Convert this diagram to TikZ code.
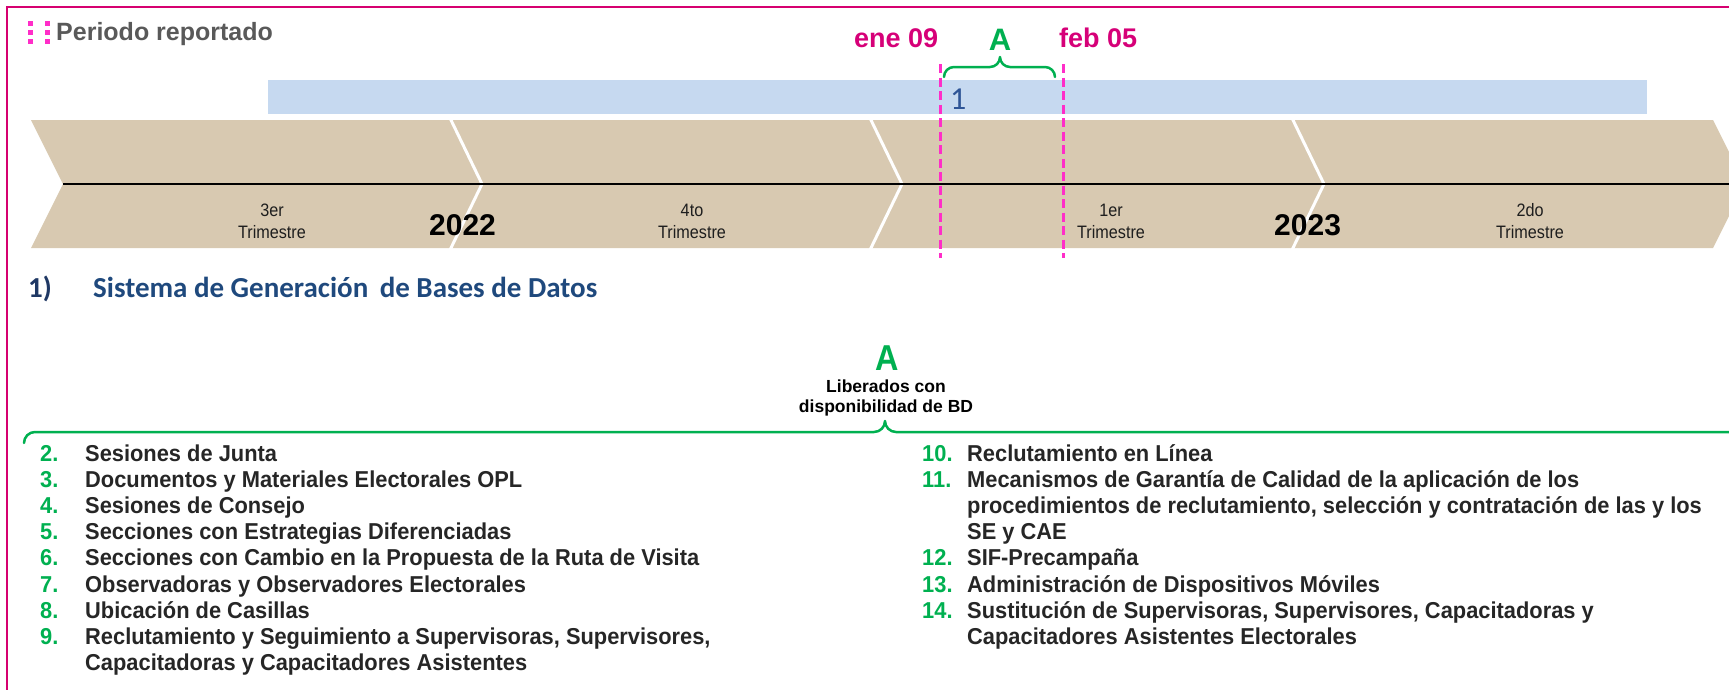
\documentclass[tikz,border=0pt]{standalone}
\usepackage{fontspec}
\setmainfont{Liberation Sans}
\newfontfamily\narrowf[FakeStretch=0.9]{Liberation Sans}
\newfontfamily\listf[FakeStretch=0.95]{Liberation Sans}
\newfontfamily\calf{Carlito}
\definecolor{borderpink}{RGB}{214,0,112}
\definecolor{dashpink}{RGB}{255,45,200}
\definecolor{datepink}{RGB}{214,0,120}
\definecolor{ggreen}{RGB}{0,176,80}
\definecolor{tan}{RGB}{216,201,177}
\definecolor{bluebar}{RGB}{198,217,240}
\definecolor{darkblue}{RGB}{47,85,151}
\definecolor{titleblue}{RGB}{31,73,125}
\definecolor{navy}{RGB}{31,56,100}
\definecolor{txtgray}{RGB}{38,38,38}
\definecolor{hdrgray}{RGB}{89,89,89}
\tikzset{
  lbl/.style={inner sep=0pt, anchor=base west},
  clbl/.style={inner sep=0pt, anchor=base},
  num/.style={lbl, text=ggreen, font=\listf\bfseries\fontsize{23}{25}\selectfont},
  item/.style={lbl, text=txtgray, font=\listf\bfseries\fontsize{23}{25}\selectfont},
  trim/.style={clbl, text=txtgray!80!black, font=\narrowf\fontsize{18}{20}\selectfont},
  year/.style={lbl, text=black, font=\bfseries\fontsize{30}{32}\selectfont},
  datelbl/.style={lbl, text=datepink, font=\bfseries\fontsize{27}{30}\selectfont},
  vdash/.style={draw=dashpink, line width=3pt, dash pattern=on 9pt off 4.5pt},
  gbrace/.style={draw=ggreen, line width=2.5pt, line cap=round, line join=round},
}
\begin{document}
\begin{tikzpicture}[x=1pt,y=-1pt]
\useasboundingbox (0,0) rectangle (1729,689);
% frame
\draw[borderpink, line width=2pt] (7,700) -- (7,7) -- (1740,7);
% header
\foreach \xx in {30,47}{
  \foreach \yy in {23,32,41}{
    \fill[dashpink] (\xx-2.5,\yy-2.5) rectangle (\xx+2.5,\yy+2.5);
  }
}
\node[lbl, text=hdrgray, font=\bfseries\fontsize{25}{27}\selectfont] (hdr) at (56,40) {Periodo reportado};
% blue bar
\fill[bluebar] (268,80) rectangle (1647,114);
\node[lbl, text=darkblue, font=\calf\fontsize{32}{34}\selectfont] (one) at (950,109) {1};
% chevron band
\fill[tan] (31,120) -- (1713,120) -- (1745,184) -- (1713,248) -- (31,248) -- (63,184) -- cycle;
\foreach \sx in {450,870,1292}{
  \draw[white, line width=3pt] (\sx,118) -- (\sx+32,184) -- (\sx,250);
}
\draw[black, line width=2pt] (63,184) -- (1729,184);
\node[trim] (t3a) at (272,216) {3er};
\node[trim] (t3b) at (272,238) {Trimestre};
\node[trim] (t4a) at (692,216) {4to};
\node[trim] (t4b) at (692,238) {Trimestre};
\node[trim] (t1a) at (1111,216) {1er};
\node[trim] (t1b) at (1111,238) {Trimestre};
\node[trim] (t2a) at (1530,216) {2do};
\node[trim] (t2b) at (1530,238) {Trimestre};
\node[year] (y22) at (429,235) {2022};
\node[year] (y23) at (1274,235) {2023};
% period markers
\coordinate (d1t) at (940,64); \coordinate (d1b) at (940,258);
\coordinate (d2t) at (1063,64); \coordinate (d2b) at (1063,258);
\draw[vdash] (d1t) -- (d1b);
\draw[vdash] (d2t) -- (d2b);
\node[datelbl] (ene) at (854,47) {ene 09};
\node[datelbl] (feb) at (1059,47) {feb 05};
\node[clbl, text=ggreen, font=\bfseries\fontsize{31}{33}\selectfont] (atop) at (1000,50) {A};
\draw[gbrace] (944,77) to[out=90,in=180] (954,67) -- (990,67) to[out=0,in=-90] (1000,57) to[out=-90,in=180] (1010,67) -- (1045,67) to[out=0,in=90] (1055,77);
% section title
\node[lbl, text=navy, font=\calf\bfseries\fontsize{29}{31}\selectfont] (s1) at (28,297) {1)};
\node[lbl, text=titleblue, font=\calf\bfseries\fontsize{29}{31}\selectfont] (s1t) at (93,297) {Sistema de Generación\, de Bases de Datos};
% big brace
\node[clbl, text=ggreen, font=\narrowf\bfseries\fontsize{36}{38}\selectfont] (abig) at (887,370) {A};
\node[clbl, text=black, font=\bfseries\fontsize{17.5}{19}\selectfont] (lib1) at (886,392) {Liberados con};
\node[clbl, text=black, font=\bfseries\fontsize{17.5}{19}\selectfont] (lib2) at (886,412) {disponibilidad de BD};
\draw[gbrace] (24,443) to[out=90,in=180] (35,432) -- (874,432) to[out=0,in=-90] (885,421) to[out=-90,in=180] (896,432) -- (1745,432);
% left list
\node[num] (n2) at (40,461) {2.};
\node[item] (i2) at (85,461) {Sesiones de Junta};
\node[num] (n3) at (40,487.2) {3.};
\node[item] (i3) at (85,487.2) {Documentos y Materiales Electorales OPL};
\node[num] (n4) at (40,513.4) {4.};
\node[item] (i4) at (85,513.4) {Sesiones de Consejo};
\node[num] (n5) at (40,539.6) {5.};
\node[item] (i5) at (85,539.6) {Secciones con Estrategias Diferenciadas};
\node[num] (n6) at (40,565.8) {6.};
\node[item] (i6) at (85,565.8) {Secciones con Cambio en la Propuesta de la Ruta de Visita};
\node[num] (n7) at (40,592) {7.};
\node[item] (i7) at (85,592) {Observadoras y Observadores Electorales};
\node[num] (n8) at (40,618.2) {8.};
\node[item] (i8) at (85,618.2) {Ubicación de Casillas};
\node[num] (n9) at (40,644.4) {9.};
\node[item] (i9) at (85,644.4) {Reclutamiento y Seguimiento a Supervisoras, Supervisores,};
\node[item] (i9b) at (85,670.6) {Capacitadoras y Capacitadores Asistentes};
% right list
\node[num] (n10) at (922,461) {10.};
\node[item] (i10) at (967,461) {Reclutamiento en Línea};
\node[num] (n11) at (922,487.2) {11.};
\node[item] (i11) at (967,487.2) {Mecanismos de Garantía de Calidad de la aplicación de los};
\node[item] (i11b) at (967,513.4) {procedimientos de reclutamiento, selección y contratación de las y los};
\node[item] (i11c) at (967,539.6) {SE y CAE};
\node[num] (n12) at (922,565.8) {12.};
\node[item] (i12) at (967,565.8) {SIF-Precampaña};
\node[num] (n13) at (922,592) {13.};
\node[item] (i13) at (967,592) {Administración de Dispositivos Móviles};
\node[num] (n14) at (922,618.2) {14.};
\node[item] (i14) at (967,618.2) {Sustitución de Supervisoras, Supervisores, Capacitadoras y};
\node[item] (i14b) at (967,644.4) {Capacitadores Asistentes Electorales};
\end{tikzpicture}
\end{document}
